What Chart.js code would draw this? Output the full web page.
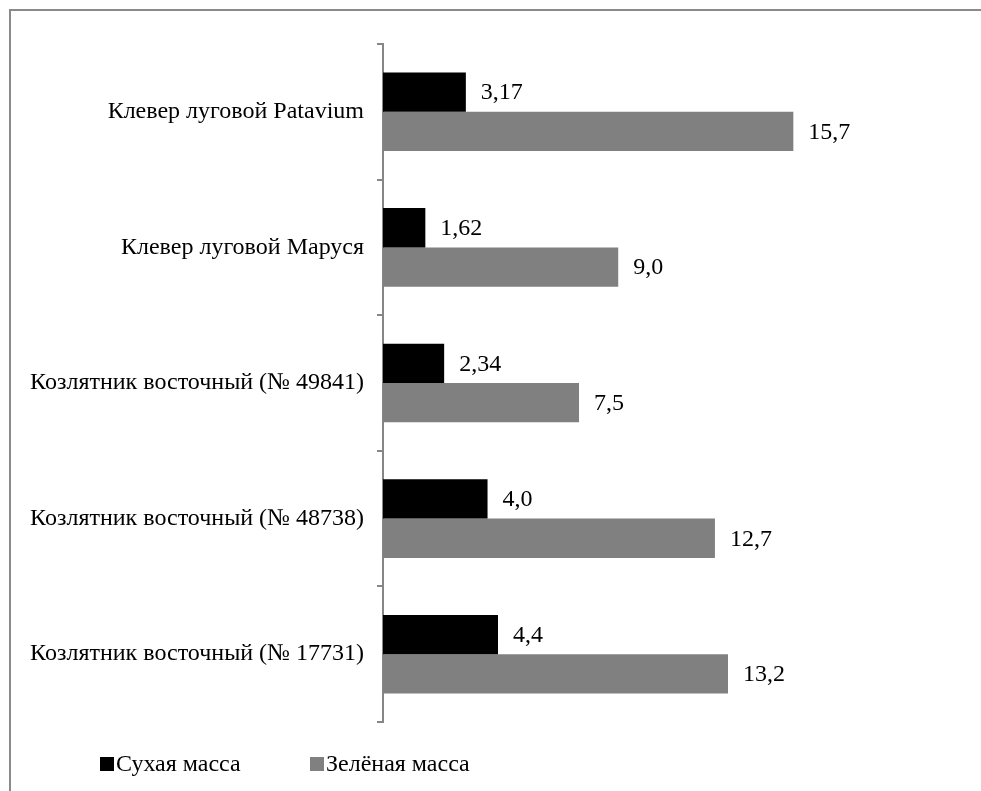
<!DOCTYPE html>
<html>
<head>
<meta charset="utf-8">
<script src="https://cdn.jsdelivr.net/npm/chart.js@4.4.0/dist/chart.umd.min.js"></script>
<style>
html,body{margin:0;padding:0;background:#fff;overflow:hidden;}
#frame{position:absolute;left:9px;top:9px;width:1000px;height:1000px;border-left:2px solid #8a8a8a;border-top:2px solid #8a8a8a;}
#wrap{position:absolute;left:0;top:0;width:981px;height:791px;}
</style>
</head>
<body>
<div id="frame"></div>
<div id="wrap"><canvas id="c" width="981" height="791"></canvas></div>
<script>
const categories = [
  "Клевер луговой Patavium",
  "Клевер луговой Маруся",
  "Козлятник восточный (№ 49841)",
  "Козлятник восточный (№ 48738)",
  "Козлятник восточный (№ 17731)"
];
const seriesNames = ["Сухая масса", "Зелёная масса"];
const dryMass = [3.17, 1.62, 2.34, 4.0, 4.4];
const greenMass = [15.7, 9.0, 7.5, 12.7, 13.2];
const dryLabels = ["3,17", "1,62", "2,34", "4,0", "4,4"];
const greenLabels = ["15,7", "9,0", "7,5", "12,7", "13,2"];

const FONT = "'Liberation Serif', 'Times New Roman', serif";

const valueLabels = {
  id: 'valueLabels',
  afterDatasetsDraw(chart) {
    const ctx = chart.ctx;
    const texts = [dryLabels, greenLabels];
    ctx.save();
    ctx.font = "24px " + FONT;
    ctx.fillStyle = "#000";
    ctx.textAlign = "left";
    ctx.textBaseline = "middle";
    chart.data.datasets.forEach((ds, i) => {
      const meta = chart.getDatasetMeta(i);
      meta.data.forEach((bar, j) => {
        ctx.fillText(texts[i][j], bar.x + 15, bar.y + 1);
      });
    });
    ctx.restore();
  }
};

const customLegend = {
  id: 'customLegend',
  afterDraw(chart) {
    const ctx = chart.ctx;
    const xs = [100, 310];
    const y = 764;
    ctx.save();
    ctx.font = "24px " + FONT;
    ctx.textBaseline = "middle";
    ctx.textAlign = "left";
    chart.data.datasets.forEach((ds, i) => {
      ctx.fillStyle = ds.backgroundColor;
      ctx.fillRect(xs[i], y - 7, 14, 14);
      ctx.fillStyle = "#000";
      ctx.fillText(ds.label, xs[i] + 16, y + 1);
    });
    ctx.restore();
  }
};

new Chart(document.getElementById('c'), {
  type: 'bar',
  data: {
    labels: categories,
    datasets: [
      { label: seriesNames[0], data: dryMass, backgroundColor: "#000000" },
      { label: seriesNames[1], data: greenMass, backgroundColor: "#808080" }
    ]
  },
  options: {
    indexAxis: 'y',
    responsive: false,
    animation: false,
    devicePixelRatio: 1,
    layout: { padding: { left: 0, right: 23, top: 44, bottom: 69 } },
    datasets: { bar: { categoryPercentage: 0.58, barPercentage: 1.0 } },
    plugins: {
      legend: { display: false },
      tooltip: { enabled: false }
    },
    scales: {
      x: {
        display: false,
        min: 0,
        max: 22
      },
      y: {
        afterFit(scale) { scale.width = 383; },
        border: { display: true, color: "#868686", width: 2 },
        grid: {
          drawOnChartArea: false,
          drawTicks: true,
          tickLength: 6,
          color: "#868686",
          lineWidth: 2,
          offset: true
        },
        ticks: {
          color: "#000",
          padding: 13,
          font: { family: FONT, size: 24 }
        }
      }
    }
  },
  plugins: [valueLabels, customLegend]
});
</script>
</body>
</html>
